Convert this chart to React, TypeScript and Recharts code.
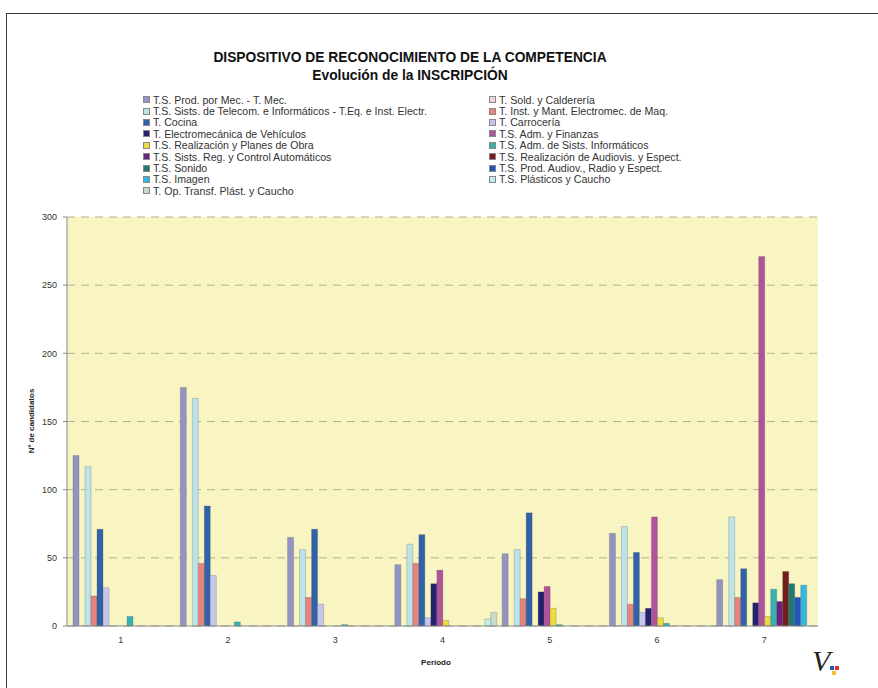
import React from 'react';
import { BarChart, Bar, XAxis, YAxis, CartesianGrid } from 'recharts';

const periods = ['1', '2', '3', '4', '5', '6', '7'];
const yTicks = [0, 50, 100, 150, 200, 250, 300];

const tsProdMec = [125, 175, 65, 45, 53, 68, 34];
const tSoldCalderia = [0, 0, 0, 0, 0, 0, 0];
const tsTelecom = [117, 167, 56, 60, 56, 73, 80];
const tInstMant = [22, 46, 21, 46, 20, 16, 21];
const tCocina = [71, 88, 71, 67, 83, 54, 42];
const tCarroceria = [28, 37, 16, 6, 0, 10, 0];
const tElectromecVeh = [0, 0, 0, 31, 25, 13, 17];
const tsAdmFinanzas = [0, 0, 0, 41, 29, 80, 271];
const tsRealizPlanes = [0, 0, 0, 4, 13, 6, 7];
const tsAdmSistsInf = [7, 3, 1, 0, 1, 2, 27];
const tsSistsReg = [0, 0, 0, 0, 0, 0, 18];
const tsRealizAudiovis = [0, 0, 0, 0, 0, 0, 40];
const tsSonido = [0, 0, 0, 0, 0, 0, 31];
const tsProdAudiov = [0, 0, 0, 0, 0, 0, 21];
const tsImagen = [0, 0, 0, 0, 0, 0, 30];
const tsPlasticos = [0, 0, 0, 5, 0, 0, 0];
const tOpTransf = [0, 0, 0, 10, 0, 0, 0];

const seriesNames = [
  'T.S. Prod. por Mec. - T. Mec.',
  'T. Sold. y Calderería',
  'T.S. Sists. de Telecom. e Informáticos - T.Eq. e Inst. Electr.',
  'T. Inst. y Mant. Electromec. de Maq.',
  'T. Cocina',
  'T. Carrocería',
  'T. Electromecánica de Vehículos',
  'T.S. Adm. y Finanzas',
  'T.S. Realización y Planes de Obra',
  'T.S. Adm. de Sists. Informáticos',
  'T.S. Sists. Reg. y Control Automáticos',
  'T.S. Realización de Audiovis. y Espect.',
  'T.S. Sonido',
  'T.S. Prod. Audiov., Radio y Espect.',
  'T.S. Imagen',
  'T.S. Plásticos y Caucho',
  'T. Op. Transf. Plást. y Caucho',
];

const seriesValues = [
  tsProdMec, tSoldCalderia, tsTelecom, tInstMant, tCocina, tCarroceria,
  tElectromecVeh, tsAdmFinanzas, tsRealizPlanes, tsAdmSistsInf, tsSistsReg,
  tsRealizAudiovis, tsSonido, tsProdAudiov, tsImagen, tsPlasticos, tOpTransf,
];

const seriesColors = [
  '#9494C4', '#F0D4DA', '#BCE4E8', '#E8837F', '#2F62A8', '#C6C6EE',
  '#22226E', '#B0529C', '#EEDC3E', '#36B2B2', '#6A2480', '#741C1C',
  '#207A72', '#2452C0', '#34B8E0', '#C2EEEE', '#C8DCCC',
];

const data = periods.map((p, i) => {
  const row: Record<string, any> = { period: p };
  seriesValues.forEach((vals, s) => {
    row['s' + s] = vals[i];
  });
  return row;
});

const font = '"Liberation Sans", Arial, sans-serif';

export default function App() {
  return (
    <div
      style={{
        position: 'absolute',
        left: 0,
        top: 0,
        width: 878,
        height: 688,
        overflow: 'hidden',
        background: '#fff',
        fontFamily: font,
      }}
    >
      <div
        style={{
          position: 'absolute',
          left: 6,
          top: 13,
          width: 900,
          height: 700,
          border: '1.5px solid #3a3a3a',
        }}
      />
      <div
        style={{
          position: 'absolute',
          left: 0,
          top: 0,
        }}
      >
        <BarChart
          width={878}
          height={688}
          data={data}
          margin={{ top: 217, right: 60, bottom: 32, left: 27 }}
          barCategoryGap={6}
          barGap={0}
        >
          <CartesianGrid
            vertical={false}
            stroke="#B3AF95"
            strokeDasharray="8 6"
            fill="#F9F5C2"
            fillOpacity={1}
          />
          <XAxis
            dataKey="period"
            height={30}
            tickLine={false}
            tickSize={0}
            tickMargin={11}
            axisLine={{ stroke: '#8a8a8a' }}
            tick={{ fontSize: 9, fill: '#333', fontFamily: font }}
          />
          <YAxis
            width={40}
            domain={[0, 300]}
            ticks={yTicks}
            tickSize={4}
            tickMargin={6}
            axisLine={{ stroke: '#8a8a8a' }}
            tickLine={{ stroke: '#8a8a8a' }}
            tick={{ fontSize: 9, fill: '#333', fontFamily: font }}
          />
          {seriesNames.map((name, s) => (
            <Bar
              key={name}
              dataKey={'s' + s}
              name={name}
              fill={seriesColors[s]}
              stroke="#555"
              strokeOpacity={0.45}
              strokeWidth={0.6}
              isAnimationActive={false}
            />
          ))}
        </BarChart>
      </div>
      <div
        style={{
          position: 'absolute',
          left: 0,
          width: 820,
          top: 49,
          textAlign: 'center',
          fontWeight: 'bold',
          fontSize: 13.8,
          lineHeight: '18px',
          color: '#111',
        }}
      >
        DISPOSITIVO DE RECONOCIMIENTO DE LA COMPETENCIA
        <br />
        Evolución de la INSCRIPCIÓN
      </div>
      <div
        style={{
          position: 'absolute',
          left: 143,
          top: 94,
          display: 'grid',
          gridTemplateColumns: '346px 346px',
          gridAutoRows: '11.4px',
          fontSize: 10.6,
          color: '#333',
        }}
      >
        {seriesNames.map((name, s) => (
          <div key={name} style={{ display: 'flex', alignItems: 'center', whiteSpace: 'nowrap' }}>
            <span
              style={{
                display: 'inline-block',
                width: 5,
                height: 5,
                background: seriesColors[s],
                border: '0.5px solid #888',
                marginRight: 3,
              }}
            />
            {name}
          </div>
        ))}
      </div>
      <div
        style={{
          position: 'absolute',
          left: 31,
          top: 421,
          transform: 'translate(-50%, -50%) rotate(-90deg)',
          fontSize: 8,
          fontWeight: 'bold',
          whiteSpace: 'nowrap',
          color: '#222',
        }}
      >
        Nº de candidatos
      </div>
      <div
        style={{
          position: 'absolute',
          left: 436,
          top: 662,
          transform: 'translate(-50%, -50%)',
          fontSize: 8,
          fontWeight: 'bold',
          color: '#222',
        }}
      >
        Período
      </div>
      <div
        style={{
          position: 'absolute',
          left: 812,
          top: 646,
          fontFamily: '"Liberation Serif", serif',
          fontStyle: 'italic',
          fontSize: 30,
          color: '#222',
          lineHeight: '30px',
        }}
      >
        V
      </div>
      <div style={{ position: 'absolute', left: 830, top: 666, width: 4, height: 4, background: '#2a5bb5' }} />
      <div style={{ position: 'absolute', left: 835, top: 666, width: 4, height: 4, background: '#e0322c' }} />
      <div style={{ position: 'absolute', left: 832, top: 671, width: 4, height: 4, background: '#f2c12e' }} />
    </div>
  );
}
